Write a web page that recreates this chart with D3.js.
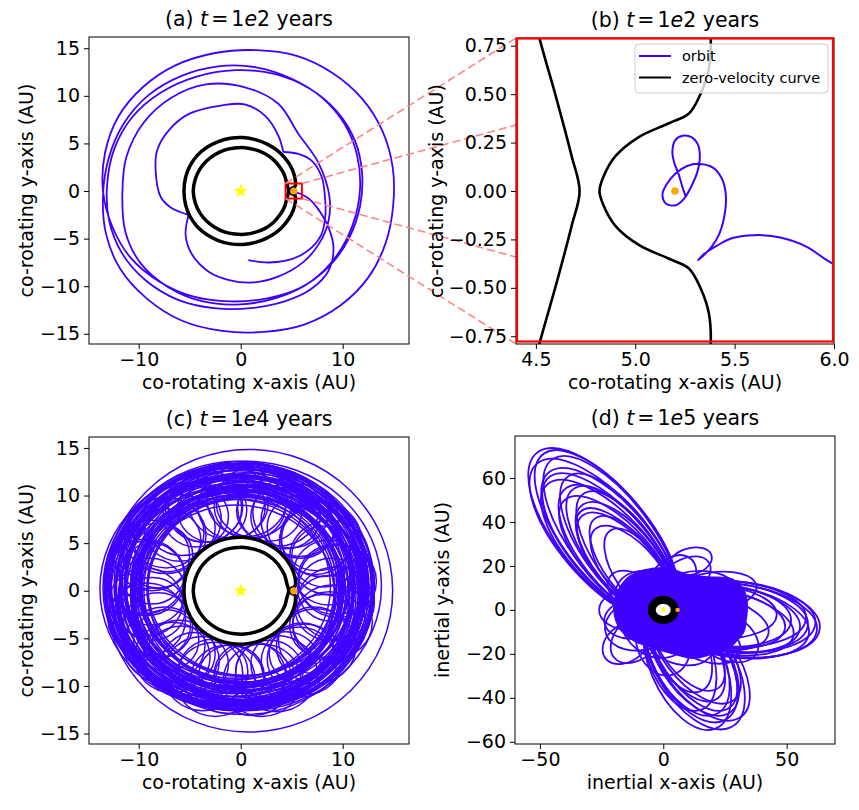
<!DOCTYPE html>
<html><head><meta charset="utf-8">
<script src="https://cdn.jsdelivr.net/npm/d3@7"></script>
<style>
body{margin:0;background:#fff;}
text{font-family:"DejaVu Sans",sans-serif;fill:#000;}
</style></head><body>
<svg id="chart" width="859" height="810"></svg>
<script>
// ---------------- DATA ----------------
const panelTitles = ["(a)","(b)","(c)","(d)"];
const panelTimes = ["1e2","1e2","1e4","1e5"];
const xLabels = ["co-rotating x-axis (AU)","co-rotating x-axis (AU)","co-rotating x-axis (AU)","inertial x-axis (AU)"];
const yLabels = ["co-rotating y-axis (AU)","co-rotating y-axis (AU)","co-rotating y-axis (AU)","inertial y-axis (AU)"];
const xTicksA = [-10,0,10], yTicksA = [-15,-10,-5,0,5,10,15];
const xTicksB = [4.5,5.0,5.5,6.0], yTicksB = [-0.75,-0.5,-0.25,0,0.25,0.5,0.75];
const xTicksD = [-50,0,50], yTicksD = [-60,-40,-20,0,20,40,60];
const legendLabels = ["orbit","zero-velocity curve"];

const starPos = [0,0];
const planetPos = [5.2,0];
const planetPosD = [5.8,0];
const zoomBox = [4.4,6.0,-0.79,0.79];

// zero-velocity curves (co-rotating frame)
const zvcInner = [[4.72,0],[4.68,0.18],[4.60,0.49],[4.52,0.78],[4.3,1.65],[3.85,2.5],[3.2,3.3],[2.35,3.95],[1.4,4.35],[0.4,4.55],[-0.6,4.52],[-1.6,4.3],[-2.55,3.8],[-3.35,3.15],[-4.0,2.3],[-4.45,1.25],[-4.65,0],[-4.45,-1.25],[-4.0,-2.3],[-3.35,-3.15],[-2.55,-3.8],[-1.6,-4.3],[-0.6,-4.52],[0.4,-4.55],[1.4,-4.35],[2.35,-3.95],[3.2,-3.3],[3.85,-2.5],[4.3,-1.65],[4.52,-0.78],[4.60,-0.49],[4.68,-0.18]];
const zvcOuter = [[4.82,0],[4.84,0.074],[4.90,0.18],[5.02,0.28],[5.17,0.35],[5.27,0.40],[5.33,0.505],[5.37,0.63],[5.38,0.78],[5.3,1.5],[4.95,2.5],[4.35,3.45],[3.55,4.3],[2.55,4.95],[1.45,5.4],[0.25,5.62],[-1.0,5.55],[-2.2,5.2],[-3.3,4.6],[-4.25,3.75],[-4.95,2.7],[-5.4,1.45],[-5.56,0],[-5.4,-1.45],[-4.95,-2.7],[-4.25,-3.75],[-3.3,-4.6],[-2.2,-5.2],[-1.0,-5.55],[0.25,-5.62],[1.45,-5.4],[2.55,-4.95],[3.55,-4.3],[4.35,-3.45],[4.95,-2.5],[5.3,-1.5],[5.38,-0.78],[5.37,-0.63],[5.33,-0.505],[5.27,-0.40],[5.17,-0.35],[5.02,-0.28],[4.90,-0.18],[4.84,-0.074]];

// orbit, t = 1e2 years (three pieces split at the cusps)
const orbitA1 = [[5.253,-0.026],[5.237,0.022],[5.217,0.091],[5.197,0.143],[5.187,0.203],[5.200,0.260],[5.237,0.285],[5.283,0.278],[5.316,0.238],[5.325,0.169],[5.313,0.100],[5.283,0.026],[5.247,-0.038],[5.203,-0.074],[5.154,-0.064],[5.137,-0.016],[5.159,0.036],[5.200,0.088],[5.258,0.128],[5.325,0.140],[5.391,0.121],[5.435,0.066],[5.455,-0.012],[5.452,-0.107],[5.424,-0.219],[5.382,-0.291],[5.336,-0.340],[5.316,-0.357],[5.346,-0.326],[5.407,-0.285],[5.482,-0.245],[5.598,-0.228],[5.730,-0.240],[5.863,-0.288],[5.978,-0.366],
 [6.25,-0.5],[6.8,-0.9],[7.6,-1.9],[8.6,-3.8],[9.1,-6],[8.6,-8.4],[6.9,-10.3],[4.3,-11.6],[1,-12.3],[-2.6,-12.3],[-6.2,-11.4],[-9.3,-9.4],[-11.6,-6.6],[-12.9,-3.1],[-13.1,0.6],[-12.4,4.4],[-10.6,7.8],[-7.9,10.3],[-4.4,12],[-0.5,12.7],[3.3,12.3],[6.7,10.8],[9.4,8.4],[11.2,5.3],[11.9,1.9],[11.7,-1.6],[10.6,-5],[8.6,-8],[5.8,-10.2],[2.5,-11.3],[-1,-11.6],[-4.6,-11.1],[-8,-9.5],[-10.8,-7],[-12.6,-3.7],[-13.5,0],[-13.3,4],[-12,7.8],[-9.6,10.9],[-6.4,13.2],[-2.5,14.5],[1.5,14.8],[5.5,14.2],[9,12.4],[11.9,9.7],[13.9,6.3],[14.9,2.5],[14.95,-1.5],[14.2,-5.5],[12.5,-9.1],[9.8,-12],[6.3,-14],[2.3,-14.8],[-1.8,-14.7],[-5.8,-13.6],[-9.2,-11.3],[-11.8,-8.2],[-13.2,-4.5],[-13.5,-0.5],[-12.9,3.6],[-11.4,7.2],[-9,10.1],[-5.8,12.1],[-2.2,13.1],[1.5,13],[5,11.8],[8,9.8],[10.2,7],[11.4,3.8],[11.7,0.2],[11,-3.5],[9.4,-6.8],[6.9,-9.5],[3.6,-11.2],[0,-11.9],[-3.7,-11.6],[-7.1,-10.1],[-9.8,-7.6],[-11.3,-4.3],[-11.6,-0.3],[-11.2,3.6],[-9.5,7.2],[-6.8,9.8],[-3.4,11.2],[0.42,10.9],[3.69,9.17],[5.65,6.02],[7.6,3.0],[8.7,-0.6],[8.6,-3.2],[7.7,-5.5],[6.1,-7.5],[3.66,-9.0],[1.3,-9.6],[-1.15,-9.35],[-3.1,-8.5],[-4.75,-6.7],[-5.4,-4.6],[-5.1,-2.5]];
const orbitA2 = [[-5.1,-2.5],[-5.95,-2.2],[-6.9,-1.7],[-7.85,-0.6],[-8.34,2.2],[-8.18,4.3],[-7.03,6.4],[-5.07,8.1],[-1.8,9.0],[0.4,9.1],[2.4,7.9],[3.7,5.8],[4.18,4.1]];
const orbitA3 = [[4.18,4.1],[5.65,3.9],[6.95,3.2],[7.94,1.5],[8.26,-0.6],[8.3,-2.6],[7.9,-4.6],[7.0,-5.9],[5.8,-6.8],[4.3,-7.35],[2.4,-7.5],[0.75,-7.25]];

// orbit, t = 1e4 years: large circulating loops [cx, cy, rx, ry]
const loopsC = [[0.8,0,14.1,14.85],[-0.3,0.4,13.1,13.0],[0.2,0.6,12.9,12.8],[-0.5,0.1,12.8,12.5],[0.4,0.3,12.7,12.7],[-0.7,0.5,12.5,12.4],[0.1,-0.2,12.4,12.2],[-0.2,0.8,12.2,12.3],[0.6,0.2,12.0,11.9],[-0.9,0.3,11.9,11.8],[0.0,0.1,11.7,11.7],[-0.4,-0.4,11.5,11.4],[0.7,0.7,11.4,11.2],[-0.1,1.0,11.2,11.1],[0.3,-0.5,11.0,10.9],[-1.0,0.0,10.8,10.8],[0.5,0.9,10.7,10.5],[-0.2,-0.3,10.5,10.3],[0.8,0.1,10.3,10.2],[-0.7,0.6,10.1,10.0],[0.1,0.2,9.9,9.8],[-0.4,-0.6,9.7,9.6],[0.4,0.5,9.5,9.4],[-0.6,-0.1,12.6,12.1],[0.3,1.1,12.1,11.6],[-0.2,-0.8,11.8,11.3],[0.9,-0.3,11.3,11.5],[-1.1,0.8,11.6,11.0],[0.6,-0.6,10.9,11.2],[-0.8,-0.4,10.4,10.7],[0.2,0.9,10.0,10.6],[-0.3,0.3,13.2,12.9],[0.1,0.7,12.3,12.6],
 [0.5,0.5,13.3,13.1],[-0.8,0.2,13.0,12.7],[0.3,-0.1,12.6,12.9],[-0.5,0.9,12.4,12.0],[0.9,0.4,12.2,12.4],[-0.2,0.0,12.0,12.2],[0.4,0.8,11.8,11.6],[-0.7,-0.2,11.6,11.8],[0.2,0.4,11.4,11.6],[-0.4,1.2,11.2,10.9],[0.6,-0.2,11.0,11.3],[-0.9,0.5,10.8,10.5],[0.1,-0.7,10.6,10.8],[0.7,0.6,10.4,10.4],[-0.5,0.2,10.2,10.5],[0.3,-0.3,10.0,10.1],[-0.2,0.7,9.8,10.0],[0.5,0.0,9.6,9.9],[-0.6,0.4,9.4,9.6],[0.0,0.3,9.2,9.3],[0.2,-0.2,12.9,12.3],[-0.3,0.6,12.7,13.0],[0.6,0.9,11.9,12.5],[-1.0,-0.3,12.1,11.5],[0.8,0.3,11.1,10.7],[-0.1,-0.5,10.7,11.0],[0.4,1.0,10.3,9.9],[-0.7,-0.6,9.9,10.2]];
// epicyclic loops [cx, cy, r]
const epiC = [[8.9,0.1,3.3],[8.6,1.9,3.4],[8.2,3.6,3.2],[7.3,5.2,3.5],[5.9,6.7,3.3],[4.4,7.8,3.4],[2.8,8.4,3.2],[0.9,8.9,3.5],[-0.9,8.8,3.3],[-2.8,8.5,3.4],[-4.4,7.8,3.2],[-6.0,6.6,3.5],[-7.2,5.3,3.3],[-8.1,3.7,3.4],[-8.7,1.8,3.2],[-8.9,-0.1,3.5],[-8.7,-1.9,3.3],[-8.1,-3.6,3.4],[-7.3,-5.2,3.2],[-6.0,-6.6,3.5],[-4.5,-7.7,3.3],[-2.7,-8.5,3.4],[-0.9,-8.9,3.2],[0.9,-8.8,3.5],[2.8,-8.5,3.3],[4.4,-7.7,3.4],[6.0,-6.6,3.2],[7.2,-5.2,3.5],[8.1,-3.7,3.3],[8.7,-1.8,3.4],
 [9.5,1.0,3.8],[7.9,5.4,3.9],[4.9,8.2,3.7],[0.6,9.6,3.9],[-3.6,8.9,3.8],[-7.3,6.1,3.7],[-9.4,1.5,3.9],[-9.2,-3.0,3.8],[-6.7,-7.0,3.7],[-2.5,-9.3,3.9],[2.1,-9.4,3.8],[6.3,-7.2,3.7],[9.0,-3.3,3.9],
 [9.3,1.2,3.7],[8.7,3.5,3.9],[7.5,5.7,3.6],[5.8,7.4,3.8],[3.7,8.7,4.0],[1.3,9.3,3.7],[-1.2,9.3,3.9],[-3.5,8.7,3.6],[-5.7,7.5,3.8],[-7.4,5.8,4.0],[-8.7,3.7,3.7],[-9.3,1.3,3.9],[-9.3,-1.2,3.6],[-8.7,-3.5,3.8],[-7.5,-5.7,4.0],[-5.8,-7.4,3.7],[-3.7,-8.7,3.9],[-1.3,-9.3,3.6],[1.2,-9.3,3.8],[3.5,-8.7,4.0],[5.7,-7.5,3.7],[7.4,-5.8,3.9],[8.7,-3.7,3.6],[9.3,-1.3,3.8]];

// orbit, t = 1e5 years (inertial frame): loops [cx, cy, a, b, angle(deg)]
const loopsD = [
 [-24.1,34.4,46,19,125],[-24.1,31.9,44,18,127],[-21.2,32.7,43,17,123],[-21.7,29.9,41,17,126],[-22.0,27.2,39,16,129],[-18.0,28.8,38,15,122],[-18.4,26.2,36,15,125],[-18.5,23.6,34,14,128],[-14.9,24.9,33,13,121],[-15.1,22.4,31,13,124],[-15.0,20.0,29,12,127],[-12.5,19.3,27,11,123],[-12.3,17.0,25,11,126],[-9.5,16.5,23,10,120],[-22.9,34.0,45,18,124],[-21.7,28.8,40,16,127],[-16.9,26.0,35,14,123],[-15.3,21.0,30,12,126],
 [12.7,-24.9,32,16,-63],[14.3,-22.9,31,15,-58],[9.7,-25.2,31,15,-69],[12.1,-21.9,29,14,-61],[9.8,-21.9,28,14,-66],[12.9,-19.1,27,13,-56],[6.8,-20.9,26,13,-72],[9.5,-18.7,25,12,-63],[9.8,-16.3,23,11,-59],[6.7,-16.7,22,11,-68],[11.4,-23.4,30,15,-64],[12.0,-20.8,28,13,-60],
 [29.7,-4.2,34,17,-8],[28.8,-3.0,33,16,-6],[27.5,-5.3,32,16,-11],[26.9,-1.9,31,15,-4],[25.7,-4.1,30,15,-9],[24.4,-5.6,29,14,-13],[23.9,-2.5,28,14,-6],[22.7,-4.0,27,13,-10],[21.0,-1.1,25,12,-3],[19.3,-5.2,24,12,-15],[29.1,-4.6,33.5,16.5,-9],[27.3,-3.4,31.5,15.5,-7],
 [-8,-6,16,12,200],[5,-10,18,13,-40],[10,5,20,12,15],[-5,5,15,12,150],[15,-12,18,10,-30],[0,-14,16,11,-80],[-10,-12,14,9,-130],[20,8,18,9,10],[3,12,14,9,60],[-14,0,12,9,180],[12,-2,22,14,-20],[-2,-2,20,16,100],[25,-12,15,10,-35],[8,14,13,8,40],[-12,8,12,8,140],
 [-15,-15,11,8,-135],[11,22,9,6,20],[-12,-4,12,9,190]];
// densely covered central region of panel (d)
const denseD = [[-20,3],[-15,14],[-8,18],[2,19],[10,16],[18,15],[28,14],[33,8],[34,0],[32,-10],[27,-17],[20,-20],[12,-22],[4,-20],[-5,-17],[-12,-14],[-18,-8]];

// ---------------- DRAWING ----------------
const svg = d3.select("#chart");
const ORB = "#3f00ff";
const fs = 19;
const boxes = [
  {l:89,r:409,t:37,b:344, xd:[-14.87,16.5], yd:[-16.07,16.18]},
  {l:516,r:834,t:38,b:344, xd:[4.4,6.0], yd:[-0.79,0.79]},
  {l:89,r:409,t:437,b:744, xd:[-14.87,16.5], yd:[-16.1,16.15]},
  {l:515,r:835,t:436,b:744, xd:[-60.1,69.6], yd:[-61,79.1]}
];
const defs = svg.append("defs");
boxes.forEach((bx,i)=>{
  bx.x = d3.scaleLinear().domain(bx.xd).range([bx.l,bx.r]);
  bx.y = d3.scaleLinear().domain(bx.yd).range([bx.b,bx.t]);
  defs.append("clipPath").attr("id","clip"+i).append("rect")
    .attr("x",bx.l).attr("y",bx.t).attr("width",bx.r-bx.l).attr("height",bx.b-bx.t);
});
function lineGen(bx, closed){
  return d3.line().x(d=>bx.x(d[0])).y(d=>bx.y(d[1]))
    .curve(closed? d3.curveCatmullRomClosed.alpha(0.5) : d3.curveCatmullRom.alpha(0.5));
}
function drawZVC(g,bx,wOuter,wInner,fillOuter){
  g.append("path").attr("d",lineGen(bx,true)(zvcOuter)).attr("fill",fillOuter).attr("stroke","#000").attr("stroke-width",wOuter);
  g.append("path").attr("d",lineGen(bx,true)(zvcInner)).attr("fill","#fff").attr("stroke","#000").attr("stroke-width",wInner);
}
function drawStar(g,bx,size){
  g.append("path").attr("d",d3.symbol(d3.symbolStar,size)())
   .attr("transform",`translate(${bx.x(starPos[0])},${bx.y(starPos[1])})`).attr("fill","#ffff00");
}
function drawPlanet(g,bx,p,r){
  g.append("circle").attr("cx",bx.x(p[0])).attr("cy",bx.y(p[1])).attr("r",r).attr("fill","#ffa500");
}
function drawAxes(bx,xt,yt,xf,yf){
  const ax = svg.append("g").attr("transform",`translate(0,${bx.b})`)
    .call(d3.axisBottom(bx.x).tickValues(xt).tickSize(5).tickPadding(4).tickFormat(xf));
  const ay = svg.append("g").attr("transform",`translate(${bx.l},0)`)
    .call(d3.axisLeft(bx.y).tickValues(yt).tickSize(5).tickPadding(4).tickFormat(yf));
  [ax,ay].forEach(a=>{a.select(".domain").remove();
    a.attr("font-size",fs).attr("font-family","DejaVu Sans");
    a.selectAll("line").attr("stroke","#000");});
  svg.append("rect").attr("x",bx.l).attr("y",bx.t).attr("width",bx.r-bx.l).attr("height",bx.b-bx.t)
    .attr("fill","none").attr("stroke","#000").attr("stroke-width",1);
}
function drawTexts(i,bx,yLabX){
  const cx=(bx.l+bx.r)/2, cy=(bx.t+bx.b)/2;
  const t = svg.append("text").attr("x",cx).attr("y",bx.t-11).attr("text-anchor","middle").attr("font-size",20.5);
  t.append("tspan").text(panelTitles[i]+" ");
  t.append("tspan").attr("font-style","italic").text("t");
  t.append("tspan").attr("dx",3).text("=");
  t.append("tspan").attr("dx",3).text(panelTimes[i].charAt(0));
  t.append("tspan").attr("font-style","italic").text(panelTimes[i].charAt(1));
  t.append("tspan").text(panelTimes[i].slice(2)+" years");
  svg.append("text").attr("x",cx).attr("y",bx.b+45).attr("text-anchor","middle").attr("font-size",fs).text(xLabels[i]);
  svg.append("text").attr("transform",`translate(${yLabX},${cy}) rotate(-90)`).attr("text-anchor","middle").attr("font-size",fs).text(yLabels[i]);
}
const fInt = d3.format("d"), f2 = d3.format(".2f"), f1 = d3.format(".1f");

// ---- panel (a)
{
  const bx=boxes[0];
  const g=svg.append("g").attr("clip-path","url(#clip0)");
  [orbitA1,orbitA2,orbitA3].forEach(seg=>{
    g.append("path").attr("d",lineGen(bx,false)(seg)).attr("fill","none").attr("stroke",ORB).attr("stroke-width",1.8);
  });
  drawZVC(g,bx,3.5,3.5,"#fff");
  drawStar(g,bx,65);
  drawPlanet(g,bx,planetPos,3.6);
  g.append("rect").attr("x",bx.x(zoomBox[0])).attr("y",bx.y(zoomBox[3]))
   .attr("width",bx.x(zoomBox[1])-bx.x(zoomBox[0])).attr("height",bx.y(zoomBox[2])-bx.y(zoomBox[3]))
   .attr("fill","none").attr("stroke","#ff0000").attr("stroke-width",2);
  drawAxes(bx,xTicksA,yTicksA,fInt,fInt);
  drawTexts(0,bx,33);
}
// ---- connector lines
{
  const a=boxes[0], b=boxes[1];
  const corners=[[zoomBox[0],zoomBox[3],b.l,b.t],[zoomBox[1],zoomBox[3],b.r,b.t],[zoomBox[0],zoomBox[2],b.l,b.b],[zoomBox[1],zoomBox[2],b.r,b.b]];
  svg.append("g").selectAll("line").data(corners).join("line")
    .attr("x1",d=>a.x(d[0])).attr("y1",d=>a.y(d[1])).attr("x2",d=>d[2]).attr("y2",d=>d[3])
    .attr("stroke","#ff8080").attr("stroke-width",1.5).attr("stroke-dasharray","8,4");
}
// ---- panel (b)
{
  const bx=boxes[1];
  svg.append("rect").attr("x",bx.l).attr("y",bx.t).attr("width",bx.r-bx.l).attr("height",bx.b-bx.t).attr("fill","#fff");
  const g=svg.append("g").attr("clip-path","url(#clip1)");
  [orbitA1,orbitA2,orbitA3].forEach(seg=>{
    g.append("path").attr("d",lineGen(bx,false)(seg)).attr("fill","none").attr("stroke",ORB).attr("stroke-width",2);
  });
  g.append("path").attr("d",lineGen(bx,true)(zvcOuter)).attr("fill","none").attr("stroke","#000").attr("stroke-width",2.6);
  g.append("path").attr("d",lineGen(bx,true)(zvcInner)).attr("fill","none").attr("stroke","#000").attr("stroke-width",2.6);
  drawPlanet(g,bx,planetPos,3.8);
  drawAxes(bx,xTicksB,yTicksB,f1,f2);
  svg.append("rect").attr("x",bx.l+1).attr("y",bx.t+0.5).attr("width",bx.r-bx.l-2).attr("height",bx.b-bx.t-3)
    .attr("fill","none").attr("stroke","#ff0000").attr("stroke-width",2.2);
  const lg=svg.append("g");
  lg.append("rect").attr("x",635).attr("y",44).attr("width",193).attr("height",49).attr("rx",4)
    .attr("fill","#fff").attr("fill-opacity",0.8).attr("stroke","#cccccc").attr("stroke-width",1);
  const cols=[ORB,"#000"];
  legendLabels.forEach((lab,k)=>{
    const yy=56+k*21.5;
    lg.append("line").attr("x1",639).attr("x2",671).attr("y1",yy).attr("y2",yy).attr("stroke",cols[k]).attr("stroke-width",2);
    lg.append("text").attr("x",682).attr("y",yy+5).attr("font-size",14.5).text(lab);
  });
  drawTexts(1,bx,443);
}
// ---- panel (c)
{
  const bx=boxes[2];
  const kx=bx.x(1)-bx.x(0), ky=bx.y(0)-bx.y(1);
  const g=svg.append("g").attr("clip-path","url(#clip2)");
  g.selectAll("ellipse.l").data(loopsC).join("ellipse").attr("class","l")
    .attr("rx",d=>d[2]).attr("ry",d=>d[3])
    .attr("transform",d=>`translate(${bx.x(d[0])},${bx.y(d[1])}) scale(${kx},${ky})`)
    .attr("fill","none").attr("stroke",ORB).attr("stroke-width",1.5).attr("vector-effect","non-scaling-stroke");
  g.selectAll("ellipse.e").data(epiC).join("ellipse").attr("class","e")
    .attr("rx",d=>d[2]).attr("ry",d=>d[2])
    .attr("transform",d=>`translate(${bx.x(d[0])},${bx.y(d[1])}) scale(${kx},${ky})`)
    .attr("fill","none").attr("stroke",ORB).attr("stroke-width",1.5).attr("vector-effect","non-scaling-stroke");
  drawZVC(g,bx,3.5,3.5,"#fff");
  drawStar(g,bx,65);
  drawPlanet(g,bx,planetPos,3.6);
  drawAxes(bx,xTicksA,yTicksA,fInt,fInt);
  drawTexts(2,bx,33);
}
// ---- panel (d)
{
  const bx=boxes[3];
  const kx=bx.x(1)-bx.x(0), ky=bx.y(0)-bx.y(1);
  const g=svg.append("g").attr("clip-path","url(#clip3)");
  g.append("path").attr("d",lineGen(bx,true)(denseD)).attr("fill",ORB).attr("stroke",ORB).attr("stroke-width",1.5);
  g.selectAll("ellipse").data(loopsD).join("ellipse")
    .attr("rx",d=>d[2]).attr("ry",d=>d[3])
    .attr("transform",d=>`translate(${bx.x(d[0])},${bx.y(d[1])}) scale(${kx},${-ky}) rotate(${d[4]})`)
    .attr("fill","none").attr("stroke",ORB).attr("stroke-width",1.8).attr("vector-effect","non-scaling-stroke");
  drawZVC(g,bx,3,8,"#000");
  drawStar(g,bx,14);
  drawPlanet(g,bx,planetPosD,2.2);
  drawAxes(bx,xTicksD,yTicksD,fInt,fInt);
  drawTexts(3,bx,449);
}
</script></body></html>
